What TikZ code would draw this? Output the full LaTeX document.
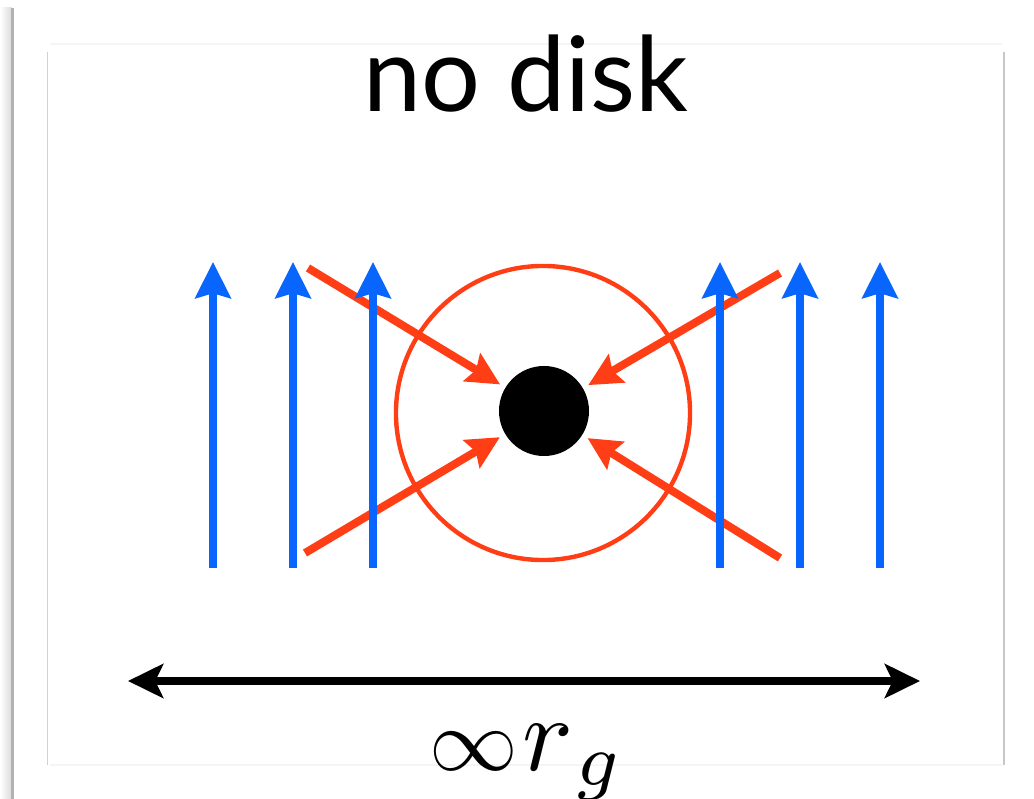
\documentclass[tikz,border=0pt]{standalone}
\usepackage{tikz}
\usetikzlibrary{arrows.meta,positioning}
\usepackage{xcolor}
\usepackage{graphicx}
\usepackage{fontspec}
\newfontfamily\titlefont{Lato}
\definecolor{jetblue}{RGB}{8,102,255}
\definecolor{infallred}{RGB}{255,62,22}

\begin{document}
\begin{tikzpicture}[x=0.025cm, y=-0.025cm,
  jet/.style={jetblue, line width=0.2cm, -{Stealth[length=0.9cm, width=0.88cm, inset=0.12cm]}},
  infall/.style={infallred, line width=0.2cm, -{Stealth[length=0.82cm, width=0.8cm, inset=0.12cm]}, shorten >=0.15cm}]
  \useasboundingbox (0,0) rectangle (1034,799);
  % pixel grid: 1 unit = 1 px of the slide, y pointing down

  % Slide edge and panel frame
  \shade[left color=white, right color=black!14] (0,8) rectangle (11.5,799);
  \draw[black!30, line width=0.05cm] (12.5,8) -- (12.5,799);
  \draw[black!4, line width=0.04cm] (50,44) -- (1002,44);
  \draw[black!4, line width=0.04cm] (50,765) -- (1002,765);
  \draw[black!18, line width=0.04cm] (47.5,52) -- (47.5,765);
  \draw[black!22, line width=0.05cm] (1003.5,52) -- (1003.5,765);

  % Title
  \node[anchor=base, font=\titlefont\fontsize{74}{80}\selectfont] (title) at (526,112) {no disk};

  % Black hole and its sphere of influence
  \node[circle, draw=infallred, line width=0.11cm, minimum size=7.35cm, inner sep=0pt] (ring) at (543,413) {};
  \node[circle, fill=black, minimum size=2.25cm, inner sep=0pt] (hole) at (544,411) {};

  % Infalling gas
  \coordinate (ul) at (308,268);
  \coordinate (ur) at (780,273);
  \coordinate (ll) at (305,553);
  \coordinate (lr) at (780,558);
  \foreach \src in {ul, ur, ll, lr} {
    \draw[infall] (\src) -- (hole);
  }

  % Jets / outflow
  \foreach \x [count=\i] in {213, 293, 373, 720, 800, 880} {
    \coordinate (jb\i) at (\x,568);
    \coordinate (jt\i) at (\x,262);
    \draw[jet] (jb\i) -- (jt\i);
  }

  % Scale bar
  \coordinate (barL) at (128,681);
  \coordinate (barR) at (920,681);
  \draw[line width=0.2cm, {Stealth[length=0.88cm, width=0.85cm, inset=0.2cm]}-{Stealth[length=0.88cm, width=0.85cm, inset=0.2cm]}] (barL) -- (barR);
  \node[anchor=base, font=\normalsize, scale=6.3, inner sep=0pt] (scale) at (527,770) {$\infty\mkern1mu\scalebox{1.2}{$r_{\mkern1mu g}$}$};
\end{tikzpicture}
\end{document}
